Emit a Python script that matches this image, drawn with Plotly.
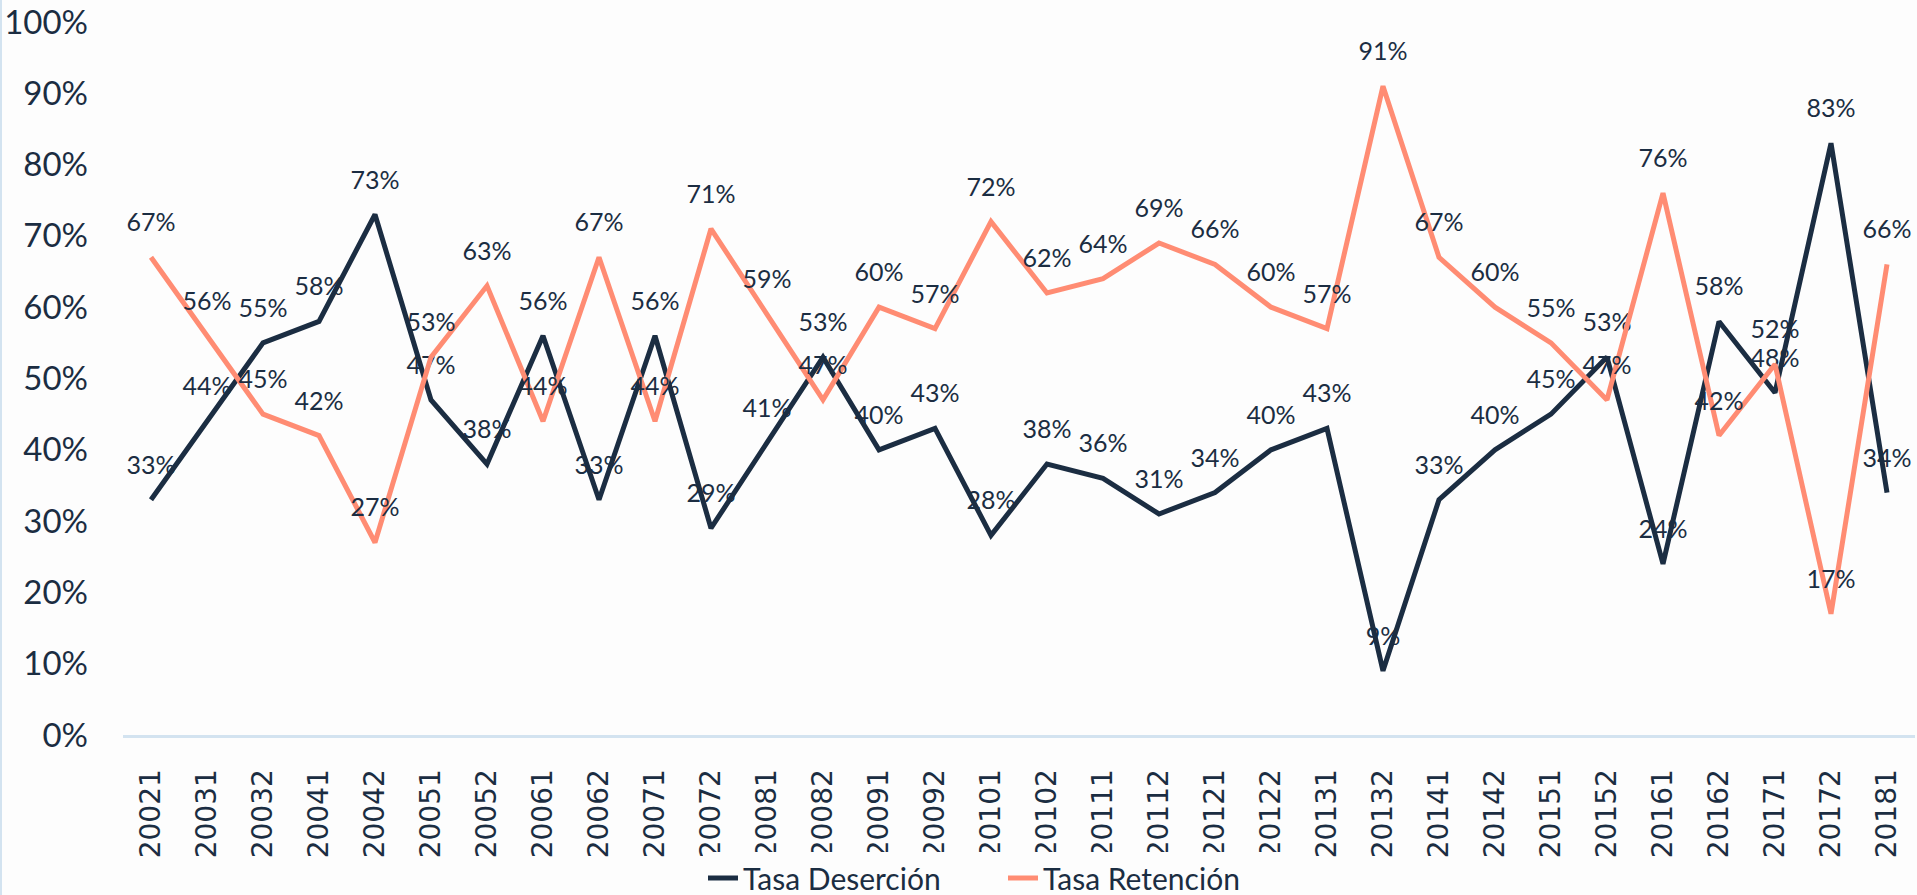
import plotly.graph_objects as go

periodos = ['20021', '20031', '20032', '20041', '20042', '20051', '20052', '20061',
            '20062', '20071', '20072', '20081', '20082', '20091', '20092', '20101',
            '20102', '20111', '20112', '20121', '20122', '20131', '20132', '20141',
            '20142', '20151', '20152', '20161', '20162', '20171', '20172', '20181']

tasa_desercion = [33, 44, 55, 58, 73, 47, 38, 56, 33, 56, 29, 41, 53, 40, 43, 28,
                  38, 36, 31, 34, 40, 43, 9, 33, 40, 45, 53, 24, 58, 48, 83, 34]
tasa_retencion = [67, 56, 45, 42, 27, 53, 63, 44, 67, 44, 71, 59, 47, 60, 57, 72,
                  62, 64, 69, 66, 60, 57, 91, 67, 60, 55, 47, 76, 42, 52, 17, 66]

NAVY = '#1b2d42'
SALMON = '#ff8c73'
FONT = 'Lato'

fig = go.Figure()
for name, vals, color in [('Tasa Deserción', tasa_desercion, NAVY),
                          ('Tasa Retención', tasa_retencion, SALMON)]:
    fig.add_trace(go.Scatter(
        x=periodos, y=[v / 100 for v in vals], name=name, mode='lines+markers+text',
        line=dict(color=color, width=5),
        # invisible markers only to push the labels up like the original
        marker=dict(size=30, color='rgba(0,0,0,0)'),
        text=[f'{v}%' for v in vals], textposition='top center',
        textfont=dict(family=FONT, size=25, color=NAVY),
        cliponaxis=False,
    ))

L, R, T, B = 123, 2, 22, 160
plot_w = 1917 - L - R
plot_h = 895 - T - B

fig.update_layout(
    width=1917, height=895,
    margin=dict(l=L, r=R, t=T, b=B, autoexpand=False),
    paper_bgcolor='#fdfdfd', plot_bgcolor='#fdfdfd',
    font=dict(family=FONT, color=NAVY),
    showlegend=True,
    legend=dict(orientation='h', x=(703 - L) / plot_w, xanchor='left',
                y=-(878 - (895 - B)) / plot_h, yanchor='middle',
                font=dict(size=30, color=NAVY),
                entrywidth=255, entrywidthmode='pixels', tracegroupgap=0),
    shapes=[dict(type='line', xref='paper', yref='paper',
                 x0=-(L - 1) / plot_w, x1=-(L - 1) / plot_w, y0=-1, y1=1.1,
                 line=dict(color='#d3e3f0', width=2))],
)
fig.update_xaxes(
    type='category', range=[-0.5, len(periodos) - 0.5], automargin=False,
    showgrid=False, zeroline=False,
    showline=True, linecolor='#d3e3f0', linewidth=3,
    tickangle=-90, tickfont=dict(family='DejaVu Sans', size=28, color=NAVY),
    ticks='', ticklabelstandoff=20,
)
fig.update_yaxes(
    range=[0, 1], dtick=0.1, tickformat='.0%', automargin=False,
    showgrid=False, zeroline=False,
    showline=False, tickfont=dict(size=33, color=NAVY),
    ticks='', ticklabelstandoff=34,
)

# drop the browser's default 8px body margin so the figure fills the window
fig.write_html('out.html', config={'displayModeBar': False},
               post_script="document.body.style.margin='0';")
